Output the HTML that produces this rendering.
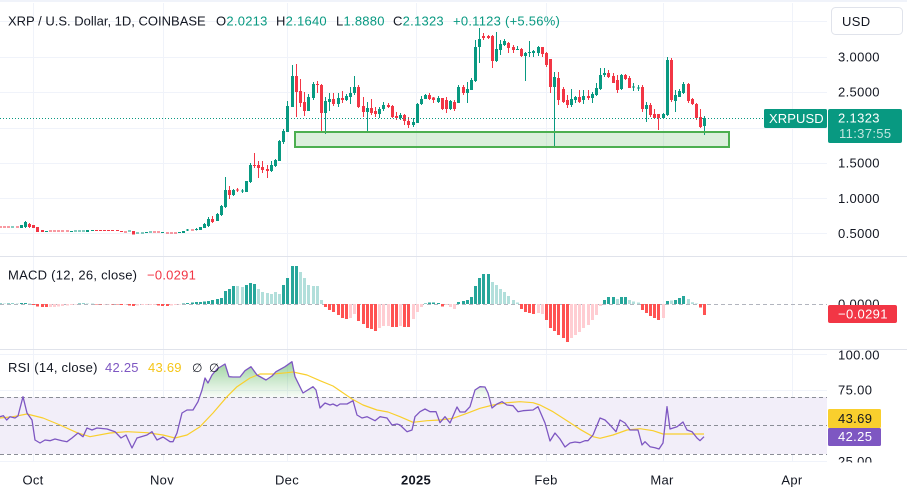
<!DOCTYPE html>
<html><head><meta charset="utf-8"><style>
html,body{margin:0;padding:0;background:#fff;width:907px;height:491px;overflow:hidden}
svg{display:block;font-family:"Liberation Sans",Arial,sans-serif}
</style></head><body>
<svg width="907" height="491" viewBox="0 0 907 491" xmlns="http://www.w3.org/2000/svg">
<defs>
<clipPath id="cp"><rect x="0" y="0" width="827" height="491"/></clipPath>
<clipPath id="cg"><rect x="0" y="340" width="827" height="57"/></clipPath>
<clipPath id="ca"><rect x="827" y="350" width="80" height="112.5"/></clipPath>
<linearGradient id="gg" gradientUnits="userSpaceOnUse" x1="0" y1="358" x2="0" y2="397"><stop offset="0" stop-color="#4caf50" stop-opacity=".6"/><stop offset="1" stop-color="#4caf50" stop-opacity=".04"/></linearGradient>
</defs>
<rect width="907" height="491" fill="#fff"/>
<rect x="0" y="0" width="907" height="2" fill="#f0f3fa"/>

<!-- grid -->
<path stroke="#f0f3fa" stroke-width="1" fill="none" d="M33.5 3V462M163.5 3V462M287.5 3V462M416.5 3V462M546.5 3V462M663.5 3V462M792.5 3V462M0 21.5H827M0 57.5H827M0 92.5H827M0 128.5H827M0 163.5H827M0 198.5H827M0 233.5H827M0 354.5H827M0 390.5H827M0 461.5H827"/>

<!-- pane separators -->
<path stroke="#e0e3eb" stroke-width="1" d="M0 256.5H907M0 349.5H907"/>

<!-- candles -->
<g clip-path="url(#cp)">
<path fill="none" stroke="#089981" stroke-width="1" d="M25.5 221V228M187.5 229V231M196.5 228V230.5M204.5 223V228M208.5 217V227M217.5 213V221M221.5 205V216M225.5 177V208M233.5 189V196M242.5 189V193M250.5 163V183M271.5 161V172M275.5 159V167M279.5 140V161M283.5 129V144M287.5 101V132M292.5 65V107M308.5 94V111M313.5 82V100M325.5 97V134M329.5 93V111M338.5 93V107M346.5 94V101M350.5 87V104M354.5 76V95M367.5 102V131M379.5 107V118M383.5 102V111M400.5 113V120M413.5 118V127M417.5 103V123M421.5 96V105M425.5 94V99M438.5 96V103M450.5 100V110M458.5 85V103M467.5 82V103M471.5 78V90M475.5 40V82M479.5 28V63M496.5 32V62M500.5 40V55M504.5 39V46M517.5 46V50M525.5 52V81M529.5 41V57M533.5 50V57M538.5 46V56M554.5 72V147M571.5 89V107M575.5 96V103M583.5 90V104M592.5 92V103M596.5 83V96M600.5 68V90M604.5 68V77M621.5 74V90M633.5 83V91M638.5 85V91M646.5 102V122M663.5 113V119M667.5 57V116M675.5 90V112M679.5 89V97M683.5 82V94M704.5 116V135"/>
<path fill="#089981" d="M11 226.5h3V227.5h-3zM20 225h3V228h-3zM24 222h3V227h-3zM45 231h3V232h-3zM70 231h3V232h-3zM74 230.5h3V231.5h-3zM78 230.5h3V231.5h-3zM82 230.5h3V231.5h-3zM86 230h3V232h-3zM91 230h3V231h-3zM128 230.5h3V231.5h-3zM136 232.5h3V233.5h-3zM141 232.5h3V233.5h-3zM145 232h3V233h-3zM149 231.5h3V232.5h-3zM161 232h3V233h-3zM178 232h3V233h-3zM182 231h3V233h-3zM186 229.5h3V230.5h-3zM195 229h3V230h-3zM199 227h3V230h-3zM203 224h3V228h-3zM207 219h3V226h-3zM216 214h3V221h-3zM220 206h3V215h-3zM224 190h3V207h-3zM232 190h3V195h-3zM241 190.5h3V191.5h-3zM245 181h3V192h-3zM249 165h3V182h-3zM270 165h3V171h-3zM274 160h3V166h-3zM278 141h3V161h-3zM282 131h3V142h-3zM286 106h3V132h-3zM291 76h3V107h-3zM307 97h3V111h-3zM312 84h3V98h-3zM324 101h3V113h-3zM328 99h3V102h-3zM337 98h3V104h-3zM345 96h3V100h-3zM349 93h3V97h-3zM353 87h3V93h-3zM366 108h3V112h-3zM378 109h3V114h-3zM382 105h3V109h-3zM399 115h3V118h-3zM412 122h3V125h-3zM416 104h3V123h-3zM420 99h3V104h-3zM424 95h3V99h-3zM437 98h3V102h-3zM449 101h3V109h-3zM457 87h3V103h-3zM466 89h3V93h-3zM470 80h3V90h-3zM474 47h3V81h-3zM478 39h3V47h-3zM495 49h3V61h-3zM499 44h3V50h-3zM503 41h3V45h-3zM516 49h3V50h-3zM524 53h3V56h-3zM528 52h3V53h-3zM532 51h3V53h-3zM537 47h3V53h-3zM553 77h3V87h-3zM570 99h3V105h-3zM574 97h3V100h-3zM582 96h3V100h-3zM591 94h3V98h-3zM595 88h3V95h-3zM599 75h3V89h-3zM603 73h3V75h-3zM620 75h3V89h-3zM632 86.5h3V87.5h-3zM637 87.5h3V88.5h-3zM645 105h3V109h-3zM662 114h3V118h-3zM666 60h3V115h-3zM674 95h3V101h-3zM678 91h3V97h-3zM682 84h3V93h-3zM703 118h3V126h-3z"/>
<path fill="none" stroke="#f23645" stroke-width="1" d="M29.5 223V228M212.5 216V223M229.5 186V199M237.5 188V192M254.5 153V168M258.5 161V178M262.5 161V173M267.5 165V178M296.5 64V117M300.5 79V107M304.5 92V116M317.5 81V93M321.5 84V131M333.5 93V106M342.5 91V103M358.5 85V108M363.5 97V117M371.5 99V115M375.5 107V117M388.5 103V108M392.5 105V118M396.5 112V120M404.5 114V125M408.5 117V128M429.5 93V100M433.5 97V103M442.5 98V110M446.5 97V113M454.5 100V111M463.5 85V95M483.5 33V40M488.5 35V39M492.5 35V68M508.5 42V53M513.5 45V53M521.5 48V57M542.5 47V57M546.5 52V67M550.5 59V93M558.5 72V105M563.5 87V103M567.5 95V108M579.5 90V103M588.5 90V100M608.5 70V78M613.5 73V83M617.5 75V93M625.5 74V80M629.5 76V88M642.5 85V112M650.5 103V117M654.5 109V118M658.5 114V130M671.5 58V102M688.5 83V103M692.5 98V105M696.5 103V120M700.5 109V128"/>
<path fill="#f23645" d="M-1 226.5h3V227.5h-3zM3 226.5h3V227.5h-3zM7 226.5h3V227.5h-3zM16 226.5h3V227.5h-3zM28 224h3V227h-3zM32 225h3V228h-3zM36 227h3V232h-3zM41 230h3V232h-3zM49 230.5h3V231.5h-3zM53 230.5h3V231.5h-3zM57 230.5h3V231.5h-3zM61 230.5h3V231.5h-3zM66 230.5h3V231.5h-3zM95 230h3V231h-3zM99 230h3V231h-3zM103 230h3V231h-3zM107 230h3V231h-3zM111 230h3V231h-3zM116 230h3V231h-3zM120 231h3V232h-3zM124 231.5h3V232.5h-3zM132 231h3V234.5h-3zM153 231.5h3V232.5h-3zM157 231.5h3V232.5h-3zM166 232.5h3V233.5h-3zM170 232.5h3V233.5h-3zM174 232.5h3V233.5h-3zM191 229.5h3V230.5h-3zM211 219h3V222h-3zM228 190h3V195h-3zM236 189.5h3V190.5h-3zM253 165h3V166h-3zM257 165h3V168h-3zM261 167h3V170h-3zM266 169h3V171h-3zM295 76h3V92h-3zM299 91h3V103h-3zM303 102h3V111h-3zM316 84h3V85h-3zM320 85h3V113h-3zM332 99h3V104h-3zM341 98h3V100h-3zM357 87h3V107h-3zM362 106h3V112h-3zM370 108h3V113h-3zM374 111h3V114h-3zM387 105h3V107h-3zM391 106h3V117h-3zM395 116h3V118h-3zM403 115h3V121h-3zM407 121h3V125h-3zM428 95h3V99h-3zM432 97.5h3V100h-3zM441 98h3V109h-3zM445 100h3V109h-3zM453 102h3V109h-3zM462 87h3V93h-3zM482 36h3V38h-3zM487 36h3V38h-3zM491 36h3V61h-3zM507 43h3V48h-3zM512 47h3V50h-3zM520 49h3V56h-3zM541 47h3V54h-3zM545 53h3V65h-3zM549 59h3V87h-3zM557 78h3V100h-3zM562 89h3V102h-3zM566 100h3V105h-3zM578 97h3V102h-3zM587 96h3V98h-3zM607 73h3V77h-3zM612 76h3V83h-3zM616 80h3V90h-3zM624 75h3V79h-3zM628 78h3V88h-3zM641 87h3V109h-3zM649 105h3V115h-3zM653 114h3V118h-3zM657 114h3V118h-3zM670 60h3V100h-3zM687 84h3V101h-3zM691 99h3V104h-3zM695 104h3V118h-3zM699 117h3V127h-3z"/>
</g>

<!-- support rectangle -->
<rect x="295" y="132" width="434" height="15" fill="#4caf50" fill-opacity=".2" stroke="#4caf50" stroke-width="2"/>

<!-- price line -->
<line x1="0" y1="118.5" x2="764" y2="118.5" stroke="#089981" stroke-width="1" stroke-dasharray="1 2"/>

<!-- header -->
<g font-size="13">
<text x="8" y="25.3" fill="#131722">XRP / U.S. Dollar, 1D, COINBASE</text>
<g letter-spacing="0.25">
<text x="216" y="25.3" fill="#131722">O<tspan fill="#089981">2.0213</tspan></text>
<text x="276" y="25.3" fill="#131722">H<tspan fill="#089981">2.1640</tspan></text>
<text x="336" y="25.3" fill="#131722">L<tspan fill="#089981">1.8880</tspan></text>
<text x="393" y="25.3" fill="#131722">C<tspan fill="#089981">2.1323</tspan></text>
<text x="453" y="25.3" fill="#089981">+0.1123</text>
<text x="505" y="25.3" fill="#089981">(+5.56%)</text>
</g>
</g>

<!-- price axis -->
<rect x="831.5" y="7.5" width="71" height="27" rx="4" fill="#fff" stroke="#e0e3eb"/>
<g font-size="13" letter-spacing="0.35" fill="#131722">
<text x="842" y="26">USD</text>
<text x="838" y="61.5">3.0000</text>
<text x="838" y="96.5">2.5000</text>
<text x="838" y="167.5">1.5000</text>
<text x="838" y="203">1.0000</text>
<text x="838" y="238">0.5000</text>
</g>
<rect x="764" y="109" width="63" height="19" rx="1.5" fill="#089981"/>
<text x="769" y="123" font-size="13" fill="#fff" letter-spacing="0.1">XRPUSD</text>
<rect x="828" y="109" width="74" height="34" rx="2" fill="#089981"/>
<text x="838" y="122.5" font-size="13" fill="#fff" letter-spacing="0.35">2.1323</text>
<text x="839" y="138" font-size="13" fill="#fff" fill-opacity=".75" letter-spacing="0.35">11:37:55</text>

<!-- MACD pane -->
<line x1="0" y1="304.5" x2="827" y2="304.5" stroke="#b2b5be" stroke-dasharray="4 3"/>
<path fill="#26a69a" d="M-1 303.5h3V304h-3zM7 303.5h3V304h-3zM11 303.5h3V304h-3zM20 303h3V304h-3zM24 303h3V304h-3zM78 303.5h3V304h-3zM82 303.5h3V304h-3zM182 303.5h3V304h-3zM186 303h3V304h-3zM191 302.5h3V304h-3zM195 302h3V304h-3zM199 302h3V304h-3zM203 301.5h3V304h-3zM207 301h3V304h-3zM211 300h3V304h-3zM216 299h3V304h-3zM220 298h3V304h-3zM224 291h3V304h-3zM228 289h3V304h-3zM232 286h3V304h-3zM245 285h3V304h-3zM249 283h3V304h-3zM253 284h3V304h-3zM282 285h3V304h-3zM286 278h3V304h-3zM291 266h3V304h-3zM295 266h3V304h-3zM424 303.5h3V304h-3zM428 302.5h3V304h-3zM432 302.5h3V304h-3zM437 303h3V304h-3zM457 302h3V304h-3zM462 301h3V304h-3zM466 300h3V304h-3zM470 297h3V304h-3zM474 286h3V304h-3zM478 278h3V304h-3zM482 274h3V304h-3zM487 274h3V304h-3zM603 300h3V304h-3zM607 297h3V304h-3zM612 297h3V304h-3zM620 297h3V304h-3zM624 297h3V304h-3zM666 301h3V304h-3zM674 300h3V304h-3zM678 298h3V304h-3zM682 296h3V304h-3z"/>
<path fill="#b2dfdb" d="M3 303.5h3V304h-3zM16 303.5h3V304h-3zM28 303.5h3V304h-3zM86 303.5h3V304h-3zM91 303.5h3V304h-3zM236 286h3V304h-3zM241 287h3V304h-3zM257 289h3V304h-3zM261 292h3V304h-3zM266 293h3V304h-3zM270 294h3V304h-3zM274 292h3V304h-3zM278 294h3V304h-3zM299 272h3V304h-3zM303 278h3V304h-3zM307 285h3V304h-3zM312 286h3V304h-3zM316 286h3V304h-3zM320 300h3V304h-3zM491 282h3V304h-3zM495 285h3V304h-3zM499 289h3V304h-3zM503 292h3V304h-3zM507 296h3V304h-3zM512 300h3V304h-3zM516 302.5h3V304h-3zM616 299h3V304h-3zM628 300h3V304h-3zM632 301.5h3V304h-3zM637 302.5h3V304h-3zM670 300.5h3V304h-3zM687 299h3V304h-3zM691 302.3h3V304h-3zM695 303.5h3V304h-3z"/>
<path fill="#ff5252" d="M32 304h3V305h-3zM36 304h3V306.5h-3zM41 304h3V307h-3zM45 304h3V307h-3zM95 304h3V304.5h-3zM99 304h3V304.5h-3zM111 304h3V304.5h-3zM116 304h3V304.5h-3zM120 304h3V305h-3zM128 304h3V305.5h-3zM132 304h3V306h-3zM157 304h3V305.5h-3zM161 304h3V306h-3zM166 304h3V306h-3zM324 304h3V307h-3zM328 304h3V310h-3zM332 304h3V312h-3zM337 304h3V315h-3zM341 304h3V318h-3zM345 304h3V319h-3zM357 304h3V321h-3zM362 304h3V324h-3zM366 304h3V328h-3zM370 304h3V329h-3zM374 304h3V331h-3zM391 304h3V327h-3zM395 304h3V327h-3zM403 304h3V327h-3zM407 304h3V327h-3zM441 304h3V306.5h-3zM520 304h3V309h-3zM524 304h3V312h-3zM528 304h3V313h-3zM532 304h3V314h-3zM545 304h3V320h-3zM549 304h3V328h-3zM553 304h3V331h-3zM557 304h3V335h-3zM562 304h3V338h-3zM566 304h3V342h-3zM641 304h3V310h-3zM645 304h3V313h-3zM649 304h3V316h-3zM653 304h3V318h-3zM657 304h3V320h-3zM699 304h3V307.5h-3zM703 304h3V315h-3z"/>
<path fill="#ffcdd2" d="M49 304h3V307h-3zM53 304h3V307h-3zM57 304h3V306.5h-3zM61 304h3V306h-3zM66 304h3V305.5h-3zM70 304h3V305h-3zM74 304h3V304.5h-3zM103 304h3V304.5h-3zM107 304h3V304.5h-3zM124 304h3V304.5h-3zM136 304h3V305.5h-3zM141 304h3V305h-3zM145 304h3V305h-3zM149 304h3V305h-3zM153 304h3V305h-3zM170 304h3V305.5h-3zM174 304h3V305h-3zM178 304h3V304.5h-3zM349 304h3V318h-3zM353 304h3V314h-3zM378 304h3V328h-3zM382 304h3V326h-3zM387 304h3V326h-3zM399 304h3V326h-3zM412 304h3V319h-3zM416 304h3V312h-3zM420 304h3V307h-3zM445 304h3V305h-3zM449 304h3V307h-3zM453 304h3V309h-3zM537 304h3V313h-3zM541 304h3V314h-3zM570 304h3V338h-3zM574 304h3V335h-3zM578 304h3V332h-3zM582 304h3V328h-3zM587 304h3V325h-3zM591 304h3V320h-3zM595 304h3V315h-3zM599 304h3V306h-3zM662 304h3V318h-3z"/>
<text x="8" y="279.5" font-size="13" letter-spacing="0.25" fill="#131722">MACD (12, 26, close)</text>
<text x="147" y="279.5" font-size="13" letter-spacing="0.25" fill="#f23645">−0.0291</text>
<text x="838" y="308.5" font-size="13" letter-spacing="0.35" fill="#131722">0.0000</text>
<rect x="828" y="305" width="69" height="18" rx="2" fill="#f23645"/>
<text x="838" y="318.5" font-size="13" letter-spacing="0.35" fill="#fff">−0.0291</text>

<!-- RSI pane -->
<rect x="0" y="397" width="827" height="57" fill="#f2eef9"/>
<path stroke="#8a8d96" stroke-width="1" stroke-dasharray="4 3" fill="none" d="M0 397.5H827M0 425.5H827M0 454.5H827"/>
<g clip-path="url(#cg)">
<path fill="url(#gg)" d="M0 397L0,416.7 3.3,415.7 6.7,420 10,416.7 15,418 18,416 23,396.7 27,413 32,420 35,440 40,443 45,440 50,440.7 55,439 62,440.7 67,441.7 72,438 78,433 83,436.7 87,428 92,430 97,428 107,429 115,431.7 121,438 126,435 132,448 137,438 147,435 152,431.7 157,440 163,437 170,441.7 173,441.7 177,433 182,413 187,410 193,410 198,401.7 202,390 205,378 208,383 212,375 217,369 225,364 229,376.7 233,377 240,377 245,370.7 251,366.7 257,375 266,380 272,376 276,371.7 285,366.7 292,361.7 295,376.7 303,393 313,386.7 316,390 320,408 325,403 330,405 333,404 337,406 340,404 347,404 353,400.7 357,415 362,418 367,416.7 375,420.7 380,416.7 387,418 392,425 397,424 400,425 407,431.7 412,430 415,416.7 420,411.7 425,409 430,411.7 436,411.7 440,422.7 445,416.7 450,423 457,407 460,412 465,412 470,406.7 475,390 480,386.7 485,387 488,393 492,408 497,404 502,401.7 507,405 513,405.7 518,411.7 523,410.7 533,410 538,406.7 545,423 550,441 555,433 560,439 565,447 570,443 575,442 580,442.7 585,440.7 588,440.7 593,435 600,418 605,420 610,425 616,431.7 620,420 625,423 630,430 638,430 642,445 645,441.7 650,446.7 655,447.7 659,449 663,443 667,406.7 670,429 677,426.7 683,422 687,430 692,431.7 697,438 700,440.7 704,436.7 L704 397Z"/>
</g>
<polyline fill="none" stroke="#f9cf2d" stroke-width="1.2" stroke-linejoin="round" points="0,418 13,416.7 27,414 43,418 60,425 77,432.7 90,436.7 110,433 127,431.7 147,432.7 163,435 175,438 187,435 200,426.7 213,413 227,396.7 237,386.7 250,378 260,374 273,374 287,372.7 293,372 307,375 320,380.7 333,386 352,399 363,405 377,410 388,412 400,416.7 413,422.3 427,420.7 440,420 453,418.3 467,413.3 480,408.3 493,405 507,402.7 520,401.7 533,402.7 540,405 553,411.7 567,420.7 580,429.3 593,436.7 600,438.3 613,435 627,430 640,428.7 653,430.7 663,434 704,434"/>
<polyline fill="none" stroke="#7e57c2" stroke-width="1.3" stroke-linejoin="round" points="0,416.7 3.3,415.7 6.7,420 10,416.7 15,418 18,416 23,396.7 27,413 32,420 35,440 40,443 45,440 50,440.7 55,439 62,440.7 67,441.7 72,438 78,433 83,436.7 87,428 92,430 97,428 107,429 115,431.7 121,438 126,435 132,448 137,438 147,435 152,431.7 157,440 163,437 170,441.7 173,441.7 177,433 182,413 187,410 193,410 198,401.7 202,390 205,378 208,383 212,375 217,369 225,364 229,376.7 233,377 240,377 245,370.7 251,366.7 257,375 266,380 272,376 276,371.7 285,366.7 292,361.7 295,376.7 303,393 313,386.7 316,390 320,408 325,403 330,405 333,404 337,406 340,404 347,404 353,400.7 357,415 362,418 367,416.7 375,420.7 380,416.7 387,418 392,425 397,424 400,425 407,431.7 412,430 415,416.7 420,411.7 425,409 430,411.7 436,411.7 440,422.7 445,416.7 450,423 457,407 460,412 465,412 470,406.7 475,390 480,386.7 485,387 488,393 492,408 497,404 502,401.7 507,405 513,405.7 518,411.7 523,410.7 533,410 538,406.7 545,423 550,441 555,433 560,439 565,447 570,443 575,442 580,442.7 585,440.7 588,440.7 593,435 600,418 605,420 610,425 616,431.7 620,420 625,423 630,430 638,430 642,445 645,441.7 650,446.7 655,447.7 659,449 663,443 667,406.7 670,429 677,426.7 683,422 687,430 692,431.7 697,438 700,440.7 704,436.7"/>
<g font-size="13" letter-spacing="0.25">
<text x="8" y="372" fill="#131722">RSI (14, close)</text>
<text x="105" y="372" fill="#7e57c2">42.25</text>
<text x="148" y="372" fill="#f5c518">43.69</text>
<text x="192" y="372" fill="#131722" font-family="DejaVu Sans, sans-serif" font-size="12">∅</text>
<text x="209" y="372" fill="#131722" font-family="DejaVu Sans, sans-serif" font-size="12">∅</text>
</g>
<g clip-path="url(#ca)" font-size="13" letter-spacing="0.35" fill="#131722">
<text x="838" y="359.5">100.00</text>
<text x="838" y="394.5">75.00</text>
<text x="838" y="466">25.00</text>
</g>
<rect x="828" y="409" width="53" height="19" rx="1.5" fill="#f9cf2d"/>
<text x="838" y="423" font-size="13" letter-spacing="0.35" fill="#131722">43.69</text>
<rect x="828" y="428" width="53" height="18" rx="1.5" fill="#7e57c2"/>
<text x="838" y="441" font-size="13" letter-spacing="0.35" fill="#fff">42.25</text>

<!-- x axis -->
<g font-size="13" letter-spacing="0.3" fill="#131722" text-anchor="middle">
<text x="33" y="484.5">Oct</text>
<text x="162" y="484.5">Nov</text>
<text x="287" y="484.5">Dec</text>
<text x="416" y="484.5" font-weight="bold">2025</text>
<text x="546" y="484.5">Feb</text>
<text x="662" y="484.5">Mar</text>
<text x="792" y="484.5">Apr</text>
</g>
</svg>
</body></html>
